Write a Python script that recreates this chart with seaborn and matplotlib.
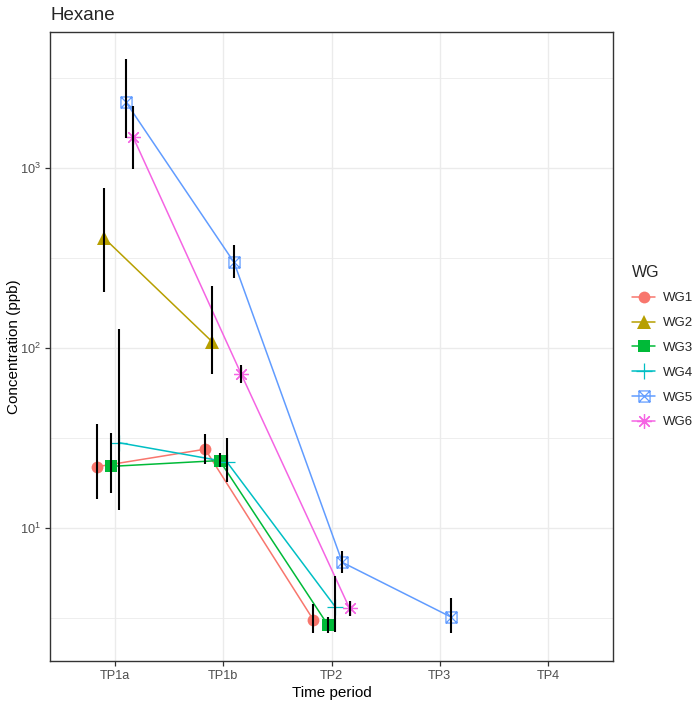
import numpy as np
import pandas as pd
import matplotlib
matplotlib.use("Agg")
import matplotlib.pyplot as plt
from matplotlib.path import Path
from matplotlib.lines import Line2D
from matplotlib.ticker import FixedLocator, LogFormatterMathtext, NullFormatter
import seaborn as sns

# ---- data ----
periods = ["TP1a", "TP1b", "TP2", "TP3", "TP4"]
groups = ["WG1", "WG2", "WG3", "WG4", "WG5", "WG6"]
colors = ["#F8766D", "#B79F00", "#00BA38", "#00BFC4", "#619CFF", "#F564E3"]

wg = ["WG1", "WG1", "WG1",
      "WG2", "WG2",
      "WG3", "WG3", "WG3",
      "WG4", "WG4", "WG4",
      "WG5", "WG5", "WG5", "WG5",
      "WG6", "WG6", "WG6"]
tp = ["TP1a", "TP1b", "TP2",
      "TP1a", "TP1b",
      "TP1a", "TP1b", "TP2",
      "TP1a", "TP1b", "TP2",
      "TP1a", "TP1b", "TP2", "TP3",
      "TP1a", "TP1b", "TP2"]
conc = [21.9, 27.4, 3.08,
        408, 108,
        22.0, 23.7, 2.89,
        29.8, 23.3, 3.66,
        2330, 299, 6.44, 3.21,
        1490, 71.5, 3.58]
lower = [14.5, 22.7, 2.60,
         205, 71.7,
         15.7, 21.9, 2.62,
         12.6, 18.1, 2.65,
         1467, 245, 5.65, 2.62,
         985, 63.7, 3.24]
upper = [37.8, 33.3, 3.77,
         777, 220,
         33.7, 26.1, 3.21,
         128, 31.5, 5.41,
         4030, 373, 7.49, 4.10,
         2200, 80.5, 3.94]

df = pd.DataFrame({"WG": wg, "TP": tp, "conc": conc, "lo": lower, "hi": upper})
# dodge positions (width 0.4 across 6 groups)
dodge_w = 0.4
df["x"] = [periods.index(t) + 1 + (groups.index(g) - 2.5) * dodge_w / len(groups)
           for g, t in zip(df["WG"], df["TP"])]

# ---- markers ----
sq_x = Path([(-1, -1), (1, -1), (1, 1), (-1, 1), (-1, -1), (1, 1), (-1, 1), (1, -1)],
            [Path.MOVETO, Path.LINETO, Path.LINETO, Path.LINETO, Path.LINETO,
             Path.LINETO, Path.MOVETO, Path.LINETO])
markers = {"WG1": ("o", 8.5, True), "WG2": ("^", 9.5, True), "WG3": ("s", 8.0, True),
           "WG4": ("+", 11.0, False), "WG5": (sq_x, 8.0, False), "WG6": ((8, 2, 0), 10.5, False)}

sns.set_theme(style="white")
plt.rcParams["font.family"] = ["Liberation Sans", "DejaVu Sans"]

fig = plt.figure(figsize=(7.0, 7.06), dpi=100)
ax = fig.add_axes([50 / 700, 1 - 661 / 706, (613 - 50) / 700, (661 - 32) / 706])

palette = dict(zip(groups, colors))
sns.lineplot(data=df, x="x", y="conc", hue="WG", hue_order=groups, palette=palette,
             estimator=None, sort=True, linewidth=1.1, legend=False, ax=ax, zorder=2)

for g in groups:
    sub = df[df["WG"] == g]
    m, ms, filled = markers[g]
    ax.plot(sub["x"], sub["conc"], linestyle="none", marker=m, markersize=ms,
            color=palette[g], markeredgewidth=0.9 if not filled else 0,
            fillstyle="full" if filled else "none", zorder=3)

ax.vlines(df["x"], df["lo"], df["hi"], color="black", linewidth=1.5, zorder=4)

ax.set_yscale("log")
ax.set_ylim(1.824, 5697)
ax.set_xlim(0.4, 5.6)
ax.set_xticks(range(1, len(periods) + 1))
ax.set_xticklabels(periods)
ax.yaxis.set_major_locator(FixedLocator([10, 100, 1000]))
ax.yaxis.set_major_formatter(LogFormatterMathtext())
ax.yaxis.set_minor_locator(FixedLocator([10 ** 0.5, 10 ** 1.5, 10 ** 2.5, 10 ** 3.5]))
ax.yaxis.set_minor_formatter(NullFormatter())

ax.grid(True, which="major", color="#EBEBEB", linewidth=1.0)
ax.grid(True, which="minor", axis="y", color="#EBEBEB", linewidth=0.6)
ax.set_axisbelow(True)
for s in ax.spines.values():
    s.set_color("#333333")
    s.set_linewidth(1.0)

ax.tick_params(axis="both", which="major", length=3.5, width=0.9, color="#333333",
               labelsize=9.2, labelcolor="#4D4D4D", pad=3, bottom=True, left=True)
ax.tick_params(axis="y", which="minor", length=0)

ax.set_xlabel("Time period", fontsize=11, color="black", labelpad=3)
ax.set_ylabel("Concentration (ppb)", fontsize=11, color="black")
ax.yaxis.set_label_coords(-0.052, 0.5)
fig.text(50 / 700, 1 - 15 / 706, "Hexane", fontsize=13.5, ha="left", va="center")

handles = []
for g in groups:
    m, ms, filled = markers[g]
    handles.append(Line2D([0], [0], color=palette[g], linewidth=1.1, marker=m, markersize=ms,
                          markeredgewidth=0.9 if not filled else 0,
                          fillstyle="full" if filled else "none"))
leg = ax.legend(handles, groups, title="WG", loc="center left",
                bbox_to_anchor=(1.025, 0.5), frameon=False, fontsize=9.5,
                title_fontsize=11.5, handlelength=1.7, labelspacing=0.95,
                handletextpad=0.6, borderaxespad=0)
leg._legend_box.align = "left"

fig.savefig("out.png", dpi=100)
